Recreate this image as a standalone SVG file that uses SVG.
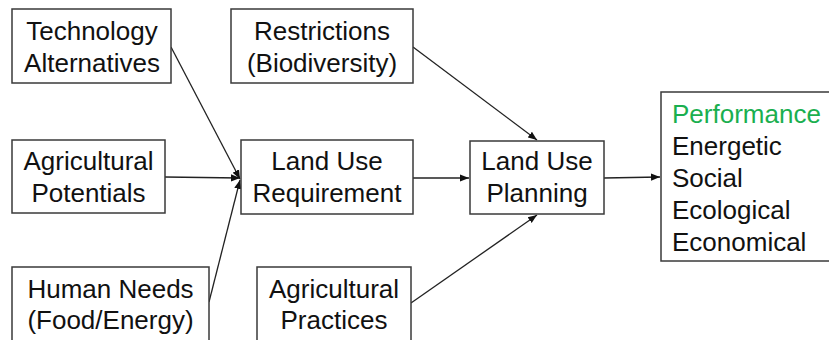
<svg xmlns="http://www.w3.org/2000/svg" width="829" height="340" viewBox="0 0 829 340">
<style>
.box{fill:#fff;stroke:#3a3a3a;stroke-width:1.5}
.t{font-family:"Liberation Sans",Arial,sans-serif;font-size:26px;fill:#111;text-anchor:middle}
.l{text-anchor:start}
.g{fill:#1aaf4f}
.c{stroke:#222;stroke-width:1.3;fill:none;marker-end:url(#ah)}
</style>
<defs>
<marker id="ah" viewBox="0 0 10 10" refX="10" refY="5" markerWidth="9" markerHeight="9" markerUnits="userSpaceOnUse" orient="auto">
<path d="M0,1 L10,5 L0,9 Z" fill="#111"/>
</marker>
</defs>
<rect width="829" height="340" fill="#fff"/>
<g id="connectors">
<line class="c" x1="171" y1="47" x2="240" y2="179"/>
<line class="c" x1="165" y1="177" x2="240" y2="178"/>
<line class="c" x1="209" y1="302" x2="240" y2="180"/>
<line class="c" x1="413" y1="47" x2="537" y2="140"/>
<line class="c" x1="411" y1="303" x2="537" y2="215"/>
<line class="c" x1="413" y1="178" x2="469" y2="178"/>
<line class="c" x1="604" y1="178" x2="660" y2="177"/>
</g>
<g id="technology">
<rect class="box" x="12" y="9" width="159" height="74"/>
<text class="t" x="92" y="40">Technology</text>
<text class="t" x="92" y="72">Alternatives</text>
</g>
<g id="restrictions">
<rect class="box" x="231" y="9" width="182" height="74"/>
<text class="t" x="322" y="40">Restrictions</text>
<text class="t" x="322" y="72">(Biodiversity)</text>
</g>
<g id="agri-potentials">
<rect class="box" x="12" y="140" width="153" height="73"/>
<text class="t" x="88.5" y="170">Agricultural</text>
<text class="t" x="88.5" y="202">Potentials</text>
</g>
<g id="land-use-requirement">
<rect class="box" x="241" y="140" width="172" height="74"/>
<text class="t" x="327" y="170">Land Use</text>
<text class="t" x="327" y="202">Requirement</text>
</g>
<g id="land-use-planning">
<rect class="box" x="470" y="141" width="134" height="73"/>
<text class="t" x="537" y="170">Land Use</text>
<text class="t" x="537" y="202">Planning</text>
</g>
<g id="human-needs">
<rect class="box" x="12" y="267" width="197" height="90"/>
<text class="t" x="110.5" y="298">Human Needs</text>
<text class="t" x="110.5" y="329">(Food/Energy)</text>
</g>
<g id="agri-practices">
<rect class="box" x="257" y="267" width="154" height="90"/>
<text class="t" x="334" y="298">Agricultural</text>
<text class="t" x="334" y="329">Practices</text>
</g>
<g id="performance">
<rect class="box" x="661" y="92" width="180" height="169"/>
<text class="t l g" x="672" y="123">Performance</text>
<text class="t l" x="672" y="155">Energetic</text>
<text class="t l" x="672" y="187">Social</text>
<text class="t l" x="672" y="219">Ecological</text>
<text class="t l" x="672" y="251">Economical</text>
</g>
</svg>
